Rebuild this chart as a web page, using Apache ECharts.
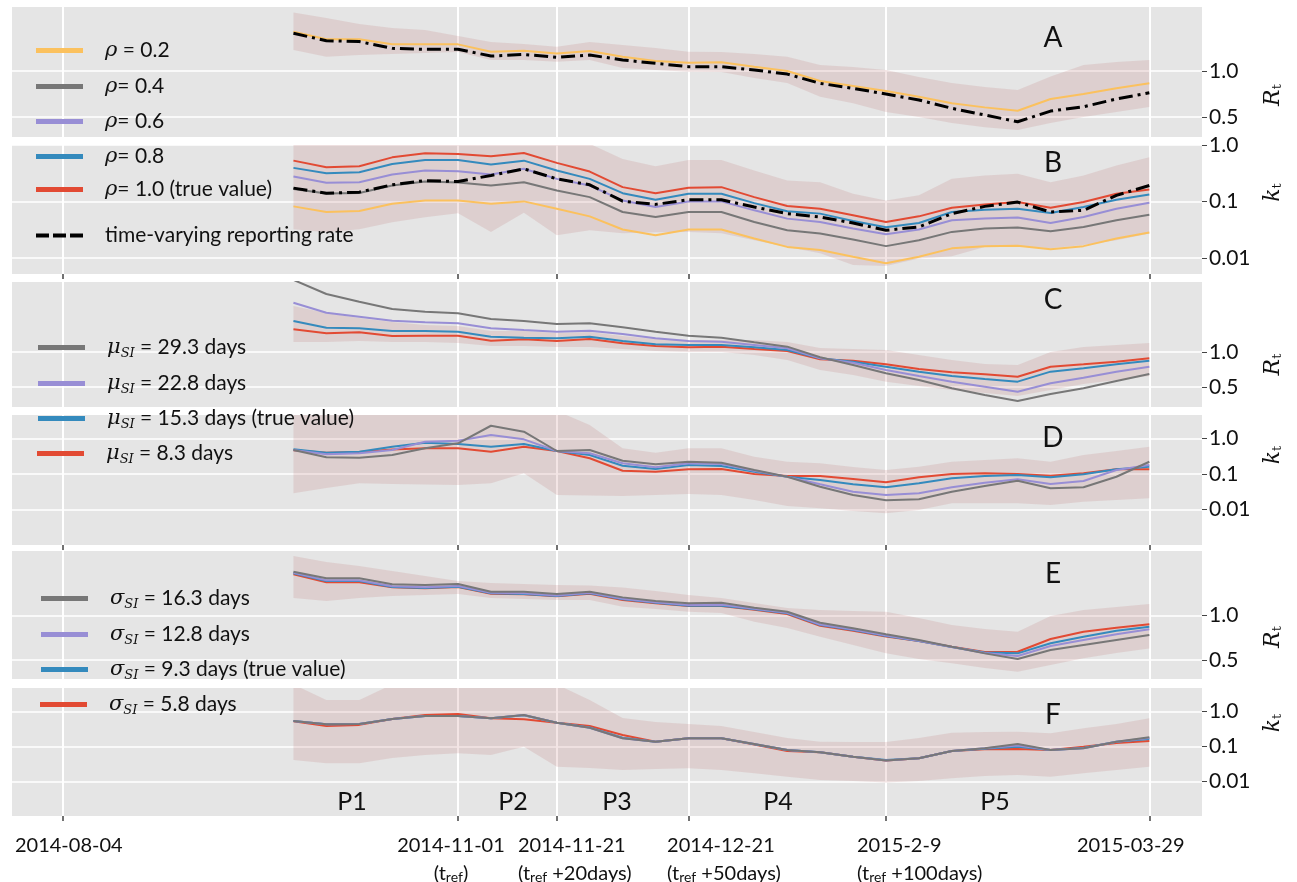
<!DOCTYPE html>
<html>
<head>
<meta charset="utf-8">
<script src="https://cdn.jsdelivr.net/npm/echarts@6/dist/echarts.min.js"></script>
<style>html,body{margin:0;padding:0;background:#fff}#c{width:1297px;height:882px}</style>
</head>
<body>
<div id="c"></div>
<script>
// ---------- data ----------
const weeks = [7,8,9,10,11,12,13,14,15,16,17,18,19,20,21,22,23,24,25,26,27,28,29,30,31,32,33];

// Panel A (R_t, reporting rate)
const A_rho02 = [1.427,1.345,1.345,1.29,1.29,1.29,1.21,1.22,1.19,1.217,1.155,1.109,1.09,1.095,1.047,1.0,0.891,0.837,0.783,0.72,0.649,0.605,0.568,0.696,0.75,0.812,0.866];
const A_tv = [1.41,1.33,1.32,1.247,1.236,1.236,1.163,1.18,1.149,1.174,1.12,1.084,1.047,1.047,1.011,0.967,0.866,0.812,0.75,0.685,0.595,0.522,0.449,0.565,0.612,0.696,0.764];
const A_hi = [1.637,1.576,1.511,1.467,1.446,1.38,1.315,1.293,1.264,1.315,1.283,1.25,1.209,1.207,1.185,1.155,1.065,1.043,1.01,0.935,0.87,0.826,0.793,0.94,1.065,1.098,1.12];
const A_lo = [1.228,1.155,1.174,1.185,1.196,1.207,1.12,1.12,1.101,1.12,1.033,1.011,0.992,0.989,0.924,0.87,0.72,0.65,0.554,0.5,0.435,0.39,0.36,0.435,0.5,0.554,0.608];

// Panel B (k_t, reporting rate)
const B_rho10 = [0.528,0.403,0.42,0.604,0.711,0.693,0.63,0.723,0.482,0.338,0.179,0.14,0.175,0.179,0.119,0.0826,0.0743,0.0566,0.0431,0.0543,0.0774,0.0885,0.0972,0.0774,0.0972,0.137,0.163];
const B_rho08 = [0.393,0.316,0.329,0.462,0.543,0.543,0.45,0.528,0.352,0.251,0.14,0.107,0.137,0.137,0.0933,0.0667,0.0607,0.045,0.0348,0.0414,0.0648,0.0714,0.0743,0.0622,0.0793,0.107,0.133];
const B_rho06 = [0.276,0.214,0.219,0.299,0.352,0.342,0.299,0.378,0.251,0.191,0.104,0.0793,0.1,0.1,0.0694,0.0495,0.0431,0.033,0.0262,0.0317,0.0462,0.0495,0.0516,0.0414,0.0528,0.0743,0.0949];
const B_rho04 = [0.166,0.138,0.141,0.191,0.225,0.216,0.191,0.219,0.156,0.119,0.0648,0.0528,0.0648,0.0648,0.0431,0.0308,0.0269,0.0211,0.0161,0.0205,0.0288,0.033,0.0344,0.0296,0.0352,0.0462,0.0582];
const B_rho02 = [0.0816,0.0648,0.0675,0.091,0.104,0.104,0.091,0.1,0.0743,0.0543,0.0317,0.0251,0.0317,0.0317,0.022,0.0156,0.0137,0.0104,0.008,0.0104,0.0147,0.0161,0.0163,0.0142,0.0161,0.022,0.0281];
const B_tv = [0.172,0.14,0.146,0.197,0.234,0.225,0.288,0.378,0.251,0.197,0.101,0.0885,0.107,0.107,0.0793,0.0607,0.0528,0.0414,0.0308,0.0352,0.0607,0.0816,0.0972,0.0648,0.0694,0.128,0.191];
const B_hi = [1.5,1.5,1.5,1.5,1.5,1.5,1.5,1.5,1.5,1.05,0.566,0.42,0.543,0.543,0.352,0.234,0.219,0.137,0.104,0.128,0.251,0.288,0.308,0.219,0.288,0.432,0.604];
const B_lo = [0.0321,0.0284,0.0321,0.0426,0.0522,0.0614,0.0288,0.0632,0.0251,0.0308,0.0273,0.0284,0.0288,0.0273,0.0205,0.0156,0.0121,0.00744,0.00714,0.00975,0.0107,0.0156,0.0161,0.0147,0.0168,0.0205,0.0269];

// Panel C (R_t, mean serial interval)
const C_mu83 = [1.324,1.267,1.281,1.229,1.233,1.233,1.161,1.181,1.157,1.186,1.124,1.086,1.067,1.076,1.043,1.014,0.896,0.876,0.824,0.757,0.71,0.681,0.647,0.79,0.824,0.861,0.91];
const C_mu153 = [1.443,1.347,1.339,1.3,1.3,1.29,1.219,1.204,1.196,1.219,1.157,1.11,1.1,1.1,1.067,1.029,0.91,0.861,0.79,0.719,0.657,0.614,0.576,0.719,0.767,0.824,0.876];
const C_mu228 = [1.704,1.561,1.504,1.447,1.424,1.41,1.339,1.314,1.29,1.304,1.257,1.196,1.157,1.147,1.1,1.053,0.91,0.847,0.743,0.657,0.576,0.504,0.433,0.553,0.633,0.719,0.79];
const C_mu293 = [2.03,1.829,1.719,1.614,1.576,1.553,1.471,1.443,1.4,1.41,1.353,1.29,1.233,1.204,1.139,1.076,0.924,0.814,0.696,0.6,0.481,0.386,0.3,0.4,0.481,0.586,0.686];
const C_hi = [1.657,1.557,1.486,1.429,1.386,1.371,1.3,1.3,1.271,1.286,1.229,1.186,1.171,1.171,1.171,1.143,1.057,1.043,1.029,0.957,0.886,0.829,0.814,1.0,1.071,1.1,1.129];
const C_lo = [1.143,1.143,1.157,1.143,1.143,1.129,1.086,1.086,1.071,1.071,1.043,1.014,1.0,1.0,0.957,0.886,0.743,0.671,0.576,0.514,0.457,0.414,0.371,0.457,0.543,0.6,0.657];

// Panel D (k_t, mean serial interval)
const D_mu83 = [0.47,0.40,0.42,0.49,0.53,0.53,0.425,0.587,0.445,0.277,0.124,0.116,0.136,0.138,0.1,0.0878,0.0878,0.0723,0.0584,0.0807,0.1,0.105,0.1,0.0895,0.105,0.136,0.136];
const D_mu153 = [0.497,0.398,0.425,0.587,0.762,0.70,0.587,0.70,0.445,0.343,0.171,0.138,0.18,0.168,0.116,0.0839,0.0678,0.0513,0.0422,0.0547,0.0757,0.0878,0.0937,0.0807,0.098,0.136,0.161];
const D_mu228 = [0.474,0.359,0.383,0.474,0.813,0.867,1.256,0.948,0.445,0.383,0.2,0.155,0.2,0.191,0.124,0.0839,0.0513,0.0317,0.0256,0.0286,0.0422,0.0569,0.071,0.0523,0.0635,0.13,0.18];
const D_mu293 = [0.474,0.295,0.288,0.343,0.53,0.733,2.29,1.555,0.445,0.474,0.237,0.188,0.222,0.208,0.13,0.0839,0.0439,0.0256,0.0182,0.0194,0.0317,0.0459,0.0648,0.0395,0.0422,0.0839,0.222];
const D_hi = [6,6,6,6,6,6,6,6,6,2.4,0.53,0.398,0.53,0.53,0.307,0.222,0.2,0.157,0.13,0.161,0.222,0.248,0.277,0.222,0.343,0.445,0.587];
const D_lo = [0.0286,0.0403,0.0547,0.0523,0.0506,0.049,0.0547,0.105,0.0256,0.0248,0.024,0.0256,0.0273,0.0256,0.0185,0.0126,0.0108,0.00908,0.00782,0.00968,0.015,0.015,0.015,0.0134,0.0166,0.0185,0.0207];

// Panel E (R_t, sd of serial interval)
const E_sd163 = [1.492,1.418,1.418,1.351,1.343,1.354,1.267,1.267,1.242,1.267,1.204,1.163,1.137,1.144,1.088,1.043,0.919,0.856,0.789,0.725,0.649,0.575,0.511,0.612,0.669,0.725,0.781];
const E_sd128 = [1.48,1.395,1.395,1.328,1.318,1.332,1.255,1.25,1.225,1.255,1.188,1.15,1.118,1.12,1.075,1.03,0.9,0.842,0.775,0.716,0.647,0.58,0.545,0.657,0.725,0.789,0.845];
const E_sd93 = [1.474,1.388,1.388,1.32,1.309,1.324,1.249,1.242,1.219,1.249,1.182,1.144,1.11,1.11,1.07,1.025,0.893,0.837,0.77,0.713,0.646,0.584,0.575,0.688,0.762,0.829,0.874];
const E_sd58 = [1.463,1.373,1.373,1.317,1.306,1.32,1.245,1.238,1.216,1.245,1.174,1.137,1.107,1.107,1.065,1.017,0.885,0.829,0.764,0.713,0.649,0.59,0.593,0.736,0.818,0.863,0.901];
const E_hi = [1.669,1.601,1.556,1.5,1.444,1.388,1.365,1.354,1.343,1.337,1.315,1.275,1.23,1.197,1.14,1.084,1.062,1.051,1.043,0.972,0.893,0.848,0.818,0.994,1.062,1.096,1.129];
const E_lo = [1.197,1.163,1.197,1.219,1.23,1.242,1.197,1.185,1.174,1.174,1.099,1.073,1.043,1.028,0.93,0.86,0.762,0.669,0.575,0.511,0.463,0.41,0.369,0.444,0.519,0.579,0.631];

// Panel F (k_t, sd of serial interval)
const F_sd163 = [0.542,0.437,0.446,0.618,0.754,0.754,0.648,0.805,0.485,0.349,0.174,0.139,0.174,0.174,0.119,0.0805,0.0692,0.0518,0.0403,0.0466,0.0753,0.09,0.119,0.0805,0.09,0.139,0.186];
const F_sd128 = [0.542,0.437,0.446,0.618,0.754,0.754,0.648,0.8,0.485,0.349,0.174,0.139,0.174,0.174,0.119,0.0805,0.0692,0.0518,0.0405,0.0466,0.0753,0.09,0.108,0.0805,0.09,0.139,0.178];
const F_sd93 = [0.54,0.435,0.446,0.618,0.754,0.754,0.648,0.79,0.485,0.355,0.18,0.139,0.174,0.174,0.118,0.0805,0.0692,0.0518,0.0417,0.0466,0.0753,0.088,0.1,0.0805,0.092,0.139,0.166];
const F_sd58 = [0.53,0.39,0.42,0.618,0.8,0.859,0.648,0.607,0.485,0.39,0.216,0.139,0.174,0.174,0.116,0.0753,0.0692,0.0518,0.0403,0.047,0.0753,0.0843,0.0859,0.0805,0.1,0.128,0.146];
const F_hi = [6,2.16,2.16,6,6,6,6,6,6,2.16,0.66,0.508,0.446,0.39,0.263,0.177,0.139,0.136,0.136,0.177,0.251,0.263,0.268,0.241,0.335,0.446,0.648];
const F_lo = [0.0417,0.0336,0.0336,0.0475,0.058,0.0648,0.058,0.1,0.0268,0.0246,0.0216,0.0231,0.0242,0.0216,0.0174,0.0139,0.0112,0.0105,0.0095,0.0105,0.0125,0.0146,0.0155,0.0139,0.0174,0.0216,0.0268];

// axes / labels
const xGridWeeks = [0, 12, 15, 19, 25, 33];
const xTickMain = ['2014-08-04', '2014-11-01', '2014-11-21', '2014-12-21', '2015-2-9', '2015-03-29'];
const xTickSecond = [null, '', ' +20days', ' +50days', ' +100days', null];
const xTickLabelPos = [-1.46, 10.15, 13.82, 18.35, 24.12, 30.8];
const rTicks = [0.5, 1.0];
const kTicks = [0.01, 0.1, 1];
const panelLetters = ['A', 'B', 'C', 'D', 'E', 'F'];
const periodLabels = ['P1', 'P2', 'P3', 'P4', 'P5'];
const rhoNames = ['ρ = 0.2', 'ρ= 0.4', 'ρ= 0.6', 'ρ= 0.8', 'ρ= 1.0 (true value)'];
const tvName = 'time-varying reporting rate';
const muNames = ['μ = 29.3 days', 'μ = 22.8 days', 'μ = 15.3 days (true value)', 'μ = 8.3 days'];
const sdNames = ['σ = 16.3 days', 'σ = 12.8 days', 'σ = 9.3 days (true value)', 'σ = 5.8 days'];

// ---------- styling ----------
const RED = '#E24A33', BLUE = '#348ABD', PURPLE = '#988ED5', GRAY = '#777777', ORANGE = '#FBC15E', BLACK = '#000000';
const BAND = 'rgba(190,110,110,0.18)';
const FONT = 'Lato';
const xMin = -1.55, xMax = 34.6;

const grids = [
  {top: 7, height: 130}, {top: 145, height: 129}, {top: 282, height: 125},
  {top: 415, height: 130}, {top: 551, height: 128}, {top: 688, height: 128}
].map(g => Object.assign({left: 12, width: 1190, show: true, backgroundColor: '#E5E5E5', borderWidth: 0, containLabel: false, outerBoundsMode: 'none'}, g));

const richTick = {
  c: {fontFamily: FONT, fontSize: 20, color: '#111', lineHeight: 28, align: 'center', verticalAlign: 'bottom'},
  cs: {fontFamily: FONT, fontSize: 14, color: '#111', padding: [8, 0, 0, 0], align: 'center', verticalAlign: 'bottom'},
  l: {fontFamily: FONT, fontSize: 20, color: '#111', lineHeight: 28, align: 'left', verticalAlign: 'bottom'},
  ls: {fontFamily: FONT, fontSize: 14, color: '#111', padding: [8, 0, 0, 0], align: 'left', verticalAlign: 'bottom'}
};
function tickLabel(i) {
  const sec = xTickSecond[i];
  if (sec === null) return '{c|' + xTickMain[i] + '}';
  if (sec === '') return '{c|' + xTickMain[i] + '}\n{c|(t}{cs|ref}{c|)}';
  return '{l|' + xTickMain[i] + '}\n{l|(t}{ls|ref}{l|' + sec + ')}';
}

function xAx(idx, ticks, labels) {
  return {
    type: 'value', gridIndex: idx, min: xMin, max: xMax, position: 'bottom',
    axisLine: {show: false, onZero: false},
    axisTick: {show: ticks, length: 5, customValues: xGridWeeks, lineStyle: {color: '#444', width: 1.5}},
    axisLabel: labels ? {
      show: true, customValues: xTickLabelPos, margin: 12, rich: richTick, align: 'left',
      formatter: v => {
        let k = 0, best = 1e9;
        xTickLabelPos.forEach((p, j) => { if (Math.abs(p - v) < best) { best = Math.abs(p - v); k = j; } });
        return tickLabel(k);
      }
    } : {show: false},
    splitLine: {show: true, lineStyle: {color: '#ffffff', width: 2}}
  };
}

const nameRich = {
  i: {fontFamily: 'DejaVu Serif', fontStyle: 'italic', fontSize: 22, color: '#111', verticalAlign: 'bottom', lineHeight: 26},
  s: {fontFamily: 'DejaVu Serif', fontSize: 13, color: '#111', padding: [9, 0, 0, 0], verticalAlign: 'bottom'}
};
function yAx(idx, isLog, min, max, shift) {
  const ticks = isLog ? kTicks : rTicks;
  const pad = shift > 0 ? [0, 2 * shift, 0, 0] : [0, 0, 0, -2 * shift];
  return {
    type: isLog ? 'log' : 'value', logBase: 10, gridIndex: idx, position: 'right', min, max,
    axisLine: {show: false, onZero: false},
    axisTick: {show: true, length: 5, inside: false, customValues: ticks, lineStyle: {color: '#444', width: 1}},
    axisLabel: {
      customValues: ticks, margin: 7, fontFamily: FONT, fontSize: 21, color: '#111',
      formatter: v => {
        if (!isLog) return v.toFixed(1);
        if (v > 0.5) return '1.0';
        return String(Number(v.toPrecision(2)));
      }
    },
    splitLine: {show: true, lineStyle: {color: '#ffffff', width: 1.5}},
    name: isLog ? '{i|k}{s|t}' : '{i|R}{s|t}', nameLocation: 'middle', nameGap: 56, nameRotate: 90,
    nameTextStyle: {rich: nameRich, padding: pad}
  };
}

function line(idx, name, vals, color, z, extra) {
  return Object.assign({
    type: 'line', name, xAxisIndex: idx, yAxisIndex: idx, symbol: 'none', silent: true, z,
    data: weeks.map((w, i) => [w, vals[i]]),
    lineStyle: {color, width: 2}, itemStyle: {color}, emphasis: {disabled: true}
  }, extra || {});
}
function tvLine(idx, vals) {
  return line(idx, tvName, vals, BLACK, 9, {lineStyle: {color: BLACK, width: 3, type: [14, 5, 3, 5]}});
}
function band(idx, lo, hi) {
  return {
    type: 'custom', xAxisIndex: idx, yAxisIndex: idx, z: 1, silent: true,
    data: weeks.map((w, i) => [w, lo[i], hi[i]]),
    encode: {x: 0, y: [1, 2]},
    renderItem: function (params, api) {
      if (params.dataIndex !== 0) return null;
      const pts = [];
      for (let i = 0; i < weeks.length; i++) pts.push(api.coord([weeks[i], hi[i]]));
      for (let i = weeks.length - 1; i >= 0; i--) pts.push(api.coord([weeks[i], lo[i]]));
      const cs = params.coordSys;
      return {
        type: 'polygon', shape: {points: pts}, style: {fill: BAND},
        clipPath: {type: 'rect', shape: {x: cs.x, y: cs.y, width: cs.width, height: cs.height}}
      };
    }
  };
}

const series = [
  band(0, A_lo, A_hi),
  line(0, rhoNames[0], A_rho02, ORANGE, 5),
  tvLine(0, A_tv),

  band(1, B_lo, B_hi),
  line(1, rhoNames[0], B_rho02, ORANGE, 3),
  line(1, rhoNames[1], B_rho04, GRAY, 4),
  line(1, rhoNames[2], B_rho06, PURPLE, 5),
  line(1, rhoNames[3], B_rho08, BLUE, 6),
  line(1, rhoNames[4], B_rho10, RED, 7),
  tvLine(1, B_tv),

  band(2, C_lo, C_hi),
  line(2, muNames[3], C_mu83, RED, 3),
  line(2, muNames[2], C_mu153, BLUE, 4),
  line(2, muNames[1], C_mu228, PURPLE, 5),
  line(2, muNames[0], C_mu293, GRAY, 6),

  band(3, D_lo, D_hi),
  line(3, muNames[3], D_mu83, RED, 3),
  line(3, muNames[2], D_mu153, BLUE, 4),
  line(3, muNames[1], D_mu228, PURPLE, 5),
  line(3, muNames[0], D_mu293, GRAY, 6),

  band(4, E_lo, E_hi),
  line(4, sdNames[3], E_sd58, RED, 3),
  line(4, sdNames[2], E_sd93, BLUE, 4),
  line(4, sdNames[1], E_sd128, PURPLE, 5),
  line(4, sdNames[0], E_sd163, GRAY, 6),

  band(5, F_lo, F_hi),
  line(5, sdNames[3], F_sd58, RED, 3),
  line(5, sdNames[2], F_sd93, BLUE, 4),
  line(5, sdNames[1], F_sd128, PURPLE, 5),
  line(5, sdNames[0], F_sd163, GRAY, 6)
];

// legend text
const legendRich = {
  g: {fontFamily: 'DejaVu Serif', fontStyle: 'italic', fontSize: 21, color: '#111', lineHeight: 26},
  s: {fontFamily: 'DejaVu Serif', fontStyle: 'italic', fontSize: 13, color: '#111', padding: [9, 0, 0, 0], verticalAlign: 'bottom'},
  t: {fontFamily: FONT, fontSize: 21, color: '#111', lineHeight: 26}
};
function legendLabel(name) {
  if (name === tvName) return '{t|' + name + '}';
  const sym = name.charAt(0);
  const rest = name.slice(1);
  if (sym === 'ρ') return '{g|ρ}{t|' + rest + '}';
  return '{g|' + sym + '}{s|SI}{t|' + rest + '}';
}
function leg(name, left, cy, extra) {
  return Object.assign({
    data: [name], left, top: cy - 13, padding: 0, itemWidth: 47, itemHeight: 5, icon: 'rect',
    selectedMode: false, itemStyle: {borderWidth: 0},
    formatter: legendLabel,
    textStyle: {rich: legendRich, padding: [0, 0, 0, 17], fontFamily: FONT, fontSize: 21}
  }, extra || {});
}
const legends = [
  leg(rhoNames[0], 36, 53), leg(rhoNames[1], 36, 89), leg(rhoNames[2], 36, 124),
  leg(rhoNames[3], 36, 159), leg(rhoNames[4], 36, 192),
  leg(tvName, 36, 238, {icon: 'path://M0,0H13V4H0Z M17,0H30V4H17Z M34,0H47V4H34Z'}),
  leg(muNames[0], 38, 350), leg(muNames[1], 38, 386), leg(muNames[2], 38, 421), leg(muNames[3], 37, 456),
  leg(sdNames[0], 41, 601), leg(sdNames[1], 41, 637), leg(sdNames[2], 41, 672), leg(sdNames[3], 40, 707)
];

const letterY = [38, 163, 300, 438, 574, 715];
const periodX = [352, 513, 617, 778, 995];
const graphics = [];
panelLetters.forEach((t, i) => graphics.push({
  type: 'text', x: 1053, y: letterY[i], z: 50,
  style: {text: t, font: '28px Lato', fill: '#111', textAlign: 'center', textVerticalAlign: 'middle'}
}));
periodLabels.forEach((t, i) => graphics.push({
  type: 'text', x: periodX[i], y: 802, z: 50,
  style: {text: t, font: '25px Lato', fill: '#111', textAlign: 'center', textVerticalAlign: 'middle'}
}));

const chart = echarts.init(document.getElementById('c'), null, {renderer: 'canvas'});
chart.setOption({
  animation: false,
  backgroundColor: '#ffffff',
  textStyle: {fontFamily: FONT},
  grid: grids,
  xAxis: [xAx(0, false, false), xAx(1, true, false), xAx(2, false, false), xAx(3, true, false), xAx(4, false, false), xAx(5, true, true)],
  yAxis: [
    yAx(0, false, 0.283, 1.696, 23),
    yAx(1, true, 0.00516, 1.0, -17),
    yAx(2, false, 0.214, 2.0, 20),
    yAx(3, true, 0.001, 4.6, -25),
    yAx(4, false, 0.287, 1.725, 22),
    yAx(5, true, 0.00105, 4.75, -29)
  ],
  legend: legends,
  series,
  graphic: graphics
});
</script>
</body>
</html>
